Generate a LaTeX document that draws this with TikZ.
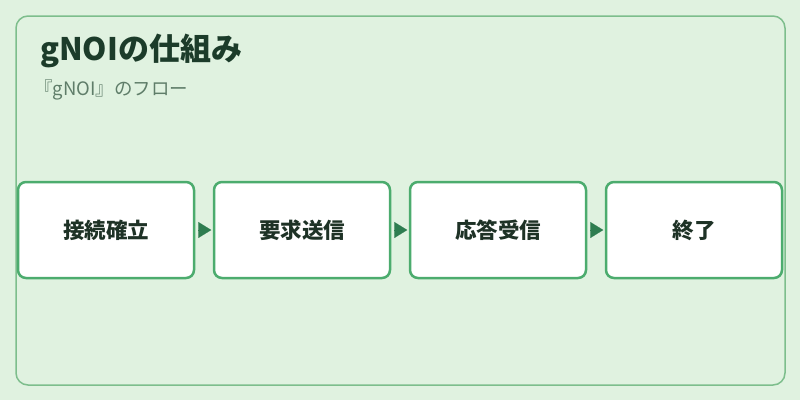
\documentclass[tikz,border=0pt]{standalone}
\usepackage{fontspec}
\usepackage{tikz}
\usetikzlibrary{positioning,arrows.meta}
\setmainfont{Noto Sans CJK JP}

\definecolor{bgpale}{RGB}{224,242,224}
\definecolor{framegreen}{RGB}{125,190,140}
\definecolor{boxgreen}{RGB}{76,172,110}
\definecolor{arrowgreen}{RGB}{46,125,80}
\definecolor{titleink}{RGB}{28,60,42}
\definecolor{subink}{RGB}{95,125,105}
\definecolor{stepink}{RGB}{30,50,38}

\tikzset{
  flowbox/.style={draw=boxgreen, line width=2.5pt, fill=white, rounded corners=8pt,
    minimum width=176pt, minimum height=96pt, inner sep=0pt,
    font=\fontsize{21.5pt}{24pt}\selectfont\bfseries, text=stepink},
  flowarrow/.style={-{Triangle[length=13pt,width=16pt]}, draw=arrowgreen, fill=arrowgreen, line width=0.1pt}
}

\begin{document}
\begin{tikzpicture}[x=1pt,y=-1pt]
\useasboundingbox[fill=bgpale] (0,0) rectangle (800,400);
\draw[framegreen, line width=1.5pt, rounded corners=12pt] (16,16) rectangle (785,385);

\node[anchor=base west, inner sep=0pt, text=titleink, font=\fontsize{31pt}{34pt}\selectfont\bfseries] (title) at (40,60) {gNOIの仕組み};
\node[anchor=base west, inner sep=0pt, text=subink, font=\fontsize{18.5pt}{20pt}\selectfont] (subtitle) at (34,95) {『gNOI』のフロー};

\node[flowbox] (connect) at (106,230) {接続確立};
\node[flowbox, right=17.5pt of connect] (request) {要求送信};
\node[flowbox, right=17.5pt of request] (response) {応答受信};
\node[flowbox, right=17.5pt of response] (finish) {終了};

\draw[flowarrow] ([xshift=-14pt]request.west) -- ([xshift=-1.5pt]request.west);
\draw[flowarrow] ([xshift=-14pt]response.west) -- ([xshift=-1.5pt]response.west);
\draw[flowarrow] ([xshift=-14pt]finish.west) -- ([xshift=-1.5pt]finish.west);
\end{tikzpicture}
\end{document}
